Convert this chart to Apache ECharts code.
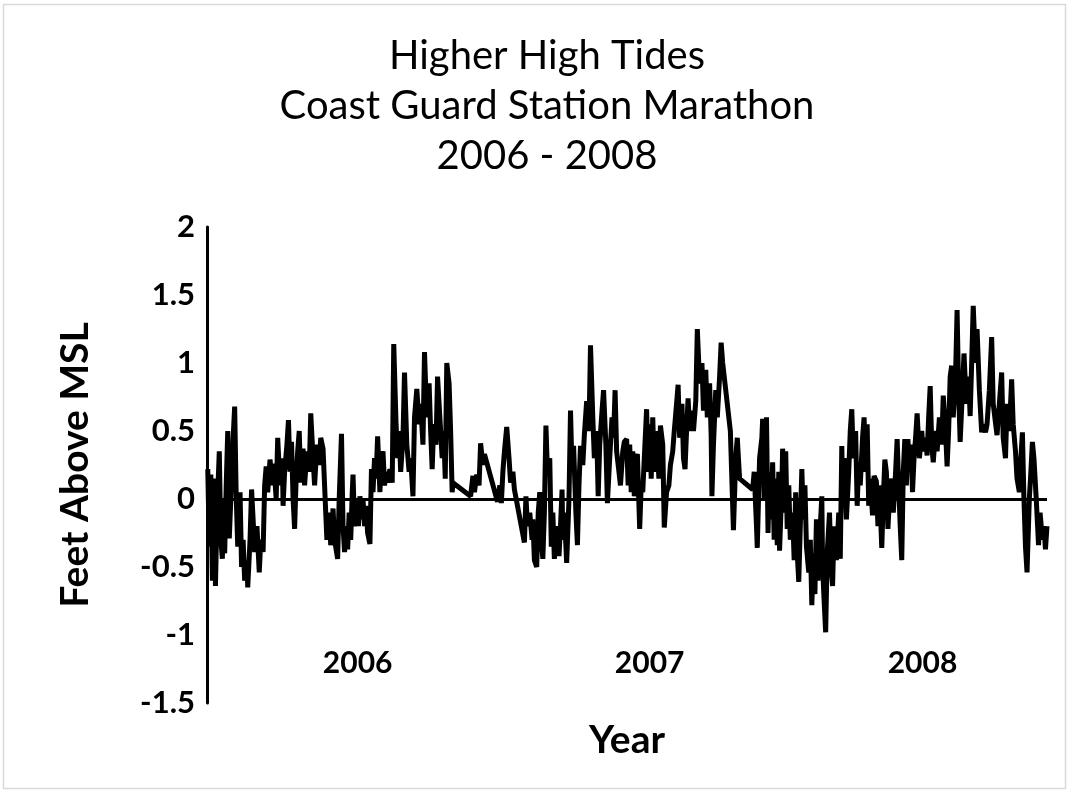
<!DOCTYPE html>
<html>
<head>
<meta charset="utf-8">
<script src="https://cdn.jsdelivr.net/npm/echarts@6/dist/echarts.min.js"></script>
<style>
  html, body { margin: 0; padding: 0; background: #ffffff; }
  #chart { width: 1070px; height: 793px; }
</style>
</head>
<body>
<div id="chart"></div>
<script>
// Day number since the start of the record (x) and higher-high tide level in feet above MSL (y)
const days = [
  // 2006 early
  1,3,5,7,9,11,13,16,18,20,21,23,25,27,29,31,34,36,38,40,43,45,47,49,52,53,56,58,60,62,65,68,70,73,75,77,79,82,85,87,90,92,95,98,99,101,104,106,108,110,112,114,116,118,120,122,125,127,130,133,135,138,140,143,146,148,151,153,156,159,161,164,166,170,172,175,177,179,
  // 2006 late
  181,183,185,187,189,190,192,195,197,199,201,203,205,207,209,212,214,216,218,220,222,225,227,229,231,233,235,238,241,243,246,248,250,252,255,257,260,263,265,268,270,273,276,278,281,283,286,289,291,293,295,298,300,303,306,308,310,312,315,317,319,320,343,346,348,351,354,356,359,361,378,
  // 2007 early
  381,383,385,387,390,393,395,398,400,413,415,417,420,423,424,426,429,431,433,435,437,439,441,443,446,448,450,452,455,458,460,462,463,465,468,471,473,475,477,480,482,484,486,489,491,494,497,499,502,504,507,509,511,514,516,519,521,524,527,529,531,533,536,538,541,543,
  // 2007 late
  546,548,550,552,554,556,558,560,563,565,567,569,572,574,576,578,580,582,585,588,590,593,595,598,601,603,606,608,611,613,615,618,620,622,624,626,628,631,633,636,638,641,644,646,649,651,654,656,657,659,662,664,667,669,671,681,685,688,690,693,710,712,715,716,719,722,723,725,
  // 2008 early
  728,730,732,734,736,738,740,742,744,745,748,749,751,753,755,757,759,762,764,766,768,770,772,774,776,778,780,783,785,787,789,791,793,795,797,800,801,803,805,807,810,812,814,816,819,822,824,826,827,829,832,835,837,839,841,844,846,848,850,853,855,857,859,861,863,866,868,871,873,875,878,880,882,884,886,888,891,893,896,898,900,902,904,906,908,
  // 2008 late
  910,912,914,916,918,920,922,924,927,930,932,935,937,939,941,943,945,948,950,953,956,958,961,963,965,967,969,971,974,976,978,980,983,985,988,991,993,995,997,1000,1002,1005,1008,1010,1013,1015,1018,1021,1023,1026,1028,1031,1034,1036,1039,1041,1044,1047,1049,1052,1054,1057,1059,1061,1063,1065,1067,1070,1072,1074,1076,1079,1082,1084,1087,1089,1091,1093
];
const feet = [
  // 2006 early
  0.22,-0.35,0.18,-0.6,0.15,-0.64,-0.1,0.35,-0.3,-0.44,0.0,-0.4,0.1,0.5,-0.29,0.0,0.45,0.68,0.02,-0.35,0.05,-0.5,-0.3,-0.6,-0.45,-0.65,-0.3,0.07,-0.15,-0.39,-0.2,-0.54,-0.3,-0.39,0.1,0.24,0.05,0.29,0.1,0.26,0.0,0.45,0.1,0.3,-0.05,0.2,0.4,0.58,0.2,0.42,0.0,-0.22,0.15,0.35,0.5,0.12,0.37,0.1,0.35,0.2,0.63,0.3,0.1,0.4,0.25,0.45,0.37,0.1,-0.3,-0.1,-0.34,-0.07,-0.3,-0.44,0.0,0.48,-0.2,-0.39,
  // 2006 late
  -0.2,-0.37,-0.1,-0.3,0.05,0.18,-0.2,0.0,-0.2,0.02,-0.15,0.0,-0.2,-0.05,-0.25,-0.33,0.22,0.05,0.3,0.15,0.46,0.05,0.3,0.35,0.1,0.2,0.12,0.22,0.12,1.14,0.55,0.3,0.5,0.2,0.45,0.93,0.4,0.2,0.3,0.02,0.6,0.81,0.55,0.7,0.4,1.08,0.6,0.85,0.5,0.22,0.55,0.4,0.9,0.6,0.3,0.5,0.15,1.0,0.85,0.5,0.05,0.12,0.02,0.17,0.05,0.18,0.1,0.41,0.25,0.33,-0.02,
  // 2007 early
  0.1,-0.03,0.2,0.35,0.53,0.3,0.12,0.2,0.07,-0.32,0.02,-0.2,-0.1,-0.3,-0.15,-0.45,-0.5,-0.1,0.05,-0.3,-0.44,-0.1,0.54,0.2,0.3,-0.35,-0.1,-0.44,-0.2,-0.42,-0.2,0.07,-0.3,-0.1,-0.47,0.0,0.65,0.2,0.39,-0.1,-0.34,0.1,0.39,0.25,0.47,0.72,0.5,1.13,0.6,0.3,0.5,0.02,0.4,0.65,0.8,0.4,-0.03,0.3,0.6,0.45,0.8,0.35,0.2,0.1,0.35,0.42,
  // 2007 late
  0.44,0.1,0.4,0.05,0.35,0.02,0.3,0.33,-0.22,0.1,0.05,0.3,0.66,0.2,0.55,0.15,0.6,0.2,0.5,0.15,0.54,0.4,-0.21,0.05,0.1,0.25,0.35,0.5,0.7,0.84,0.45,0.7,0.3,0.22,0.5,0.74,0.5,0.65,0.5,0.72,1.25,0.85,1.0,0.65,0.95,0.6,0.85,0.47,0.02,0.4,0.8,0.6,0.9,1.15,1.0,0.5,-0.23,0.3,0.45,0.15,0.07,0.2,-0.2,-0.36,0.3,0.45,0.59,0.0,
  // 2008 early
  0.6,-0.25,0.2,-0.15,0.27,-0.3,0.15,-0.34,0.2,-0.38,0.1,0.37,-0.1,0.35,-0.22,0.1,-0.3,-0.1,-0.45,0.05,-0.4,-0.61,-0.2,0.22,-0.15,0.1,-0.35,-0.54,-0.3,-0.78,-0.4,-0.7,-0.15,-0.6,-0.3,0.02,-0.5,-0.75,-0.98,-0.4,-0.1,-0.5,-0.64,-0.2,-0.45,-0.1,-0.44,0.39,0.0,0.3,-0.15,0.2,0.5,0.66,0.3,0.5,-0.05,0.27,0.1,0.45,0.6,0.2,0.55,-0.05,0.15,-0.12,0.17,0.13,-0.2,0.1,-0.36,0.0,0.29,0.2,-0.22,0.0,0.15,-0.1,0.2,0.44,0.1,-0.2,-0.45,0.2,0.44,
  // 2008 late
  0.1,0.44,0.2,0.4,0.05,0.3,0.45,0.63,0.3,0.5,0.35,0.45,0.32,0.6,0.83,0.4,0.27,0.5,0.35,0.6,0.4,0.76,0.5,0.24,0.5,0.9,0.98,0.6,0.9,1.39,0.8,0.42,0.8,1.07,0.7,0.9,0.61,1.0,1.42,1.0,1.25,0.8,0.49,0.55,0.49,0.55,0.8,1.19,0.7,0.56,0.47,0.7,0.93,0.45,0.3,0.7,0.5,0.88,0.55,0.35,0.15,0.05,0.3,0.49,0.0,-0.35,-0.54,0.0,0.2,0.42,0.3,0.0,-0.34,-0.1,-0.3,-0.2,-0.37,-0.2
];
const yearLabels = ['2006', '2007', '2008'];
const yearLabelDays = [196, 576, 931];
const titleLines = ['Higher High Tides', 'Coast Guard Station Marathon', '2006 - 2008'];
const yAxisTitle = 'Feet Above MSL';
const xAxisTitle = 'Year';

const FONT = 'Lato, "Open Sans", sans-serif';
const chart = echarts.init(document.getElementById('chart'), null, { renderer: 'canvas' });

const seriesData = days.map((d, i) => [d, feet[i]]);

chart.setOption({
  animation: false,
  backgroundColor: '#ffffff',
  graphic: [{
    type: 'rect',
    shape: { x: 3.5, y: 4.5, width: 1062, height: 784 },
    style: { fill: 'none', stroke: '#d9d9d9', lineWidth: 1.5 },
    silent: true
  }],
  title: {
    text: titleLines.join('\n'),
    left: 542,
    top: 26,
    textAlign: 'center',
    textStyle: { fontFamily: FONT, fontSize: 40, fontWeight: 'normal', color: '#000', lineHeight: 50 }
  },
  grid: { left: 207, right: 23, top: 227, bottom: 90, containLabel: false, outerBoundsMode: 'none' },
  xAxis: {
    type: 'value',
    min: 0,
    max: 1093,
    axisLine: { show: false, onZero: false },
    axisTick: { show: false },
    splitLine: { show: false },
    axisLabel: {
      customValues: yearLabelDays,
      formatter: v => yearLabels[yearLabelDays.indexOf(v)] || '',
      margin: -55,
      fontFamily: FONT, fontSize: 30, fontWeight: 'bold', color: '#000'
    },
    name: xAxisTitle,
    nameLocation: 'middle',
    nameGap: 18,
    nameTextStyle: { fontFamily: FONT, fontSize: 39, fontWeight: 'bold', color: '#000' }
  },
  yAxis: {
    type: 'value',
    min: -1.5,
    max: 2,
    interval: 0.5,
    axisLine: { show: true, onZero: false, lineStyle: { color: '#000', width: 3 } },
    axisTick: { show: false },
    splitLine: { show: false },
    axisLabel: { margin: 12, fontFamily: FONT, fontSize: 31, fontWeight: 'bold', color: '#000' },
    name: yAxisTitle,
    nameLocation: 'middle',
    nameGap: 112,
    nameRotate: 90,
    nameTextStyle: { fontFamily: FONT, fontSize: 39, fontWeight: 'bold', color: '#000' }
  },
  series: [{
    type: 'line',
    data: seriesData,
    symbol: 'none',
    showSymbol: false,
    lineStyle: { color: '#000', width: 5 },
    z: 3,
    markLine: {
      silent: true,
      symbol: 'none',
      label: { show: false },
      lineStyle: { color: '#000', width: 3, type: 'solid' },
      data: [{ yAxis: 0 }],
      z: 2
    }
  }]
});
</script>
</body>
</html>
